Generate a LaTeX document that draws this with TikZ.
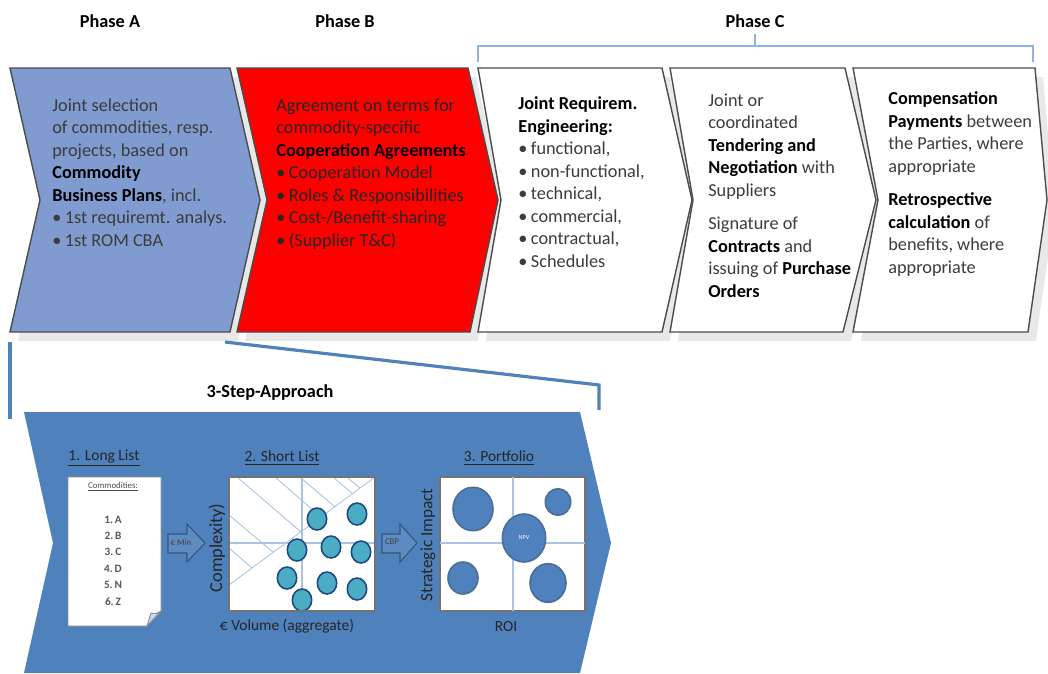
\documentclass[tikz,border=0pt]{standalone}
\usepackage{fontspec}
\setmainfont{Carlito}
\usetikzlibrary{shadows}

\definecolor{phaseblue}{RGB}{127,155,208}
\definecolor{phasered}{RGB}{255,0,0}
\definecolor{stepblue}{RGB}{79,129,189}
\definecolor{bracketblue}{RGB}{141,179,226}
\definecolor{gridblue}{RGB}{170,195,228}
\definecolor{listteal}{RGB}{75,172,198}
\definecolor{dotline}{RGB}{31,73,125}
\definecolor{bodygray}{RGB}{60,60,60}

\newcommand{\kw}[1]{\textcolor{black}{\textbf{#1}}}

\tikzset{
  phase/.style={draw=black!70, line width=0.8pt,
    drop shadow={shadow xshift=4.5pt, shadow yshift=-5pt, fill=black!9, opacity=1}},
  body/.style={anchor=base west, inner sep=0pt, align=left, text=bodygray,
    font=\fontsize{10.4}{12.8}\selectfont},
  title/.style={font=\fontsize{10.4}{12.8}\selectfont\bfseries},
  bracket/.style={draw=bracketblue, line width=1.1pt},
  callout/.style={draw=stepblue, line width=1.8pt},
  steplabel/.style={font=\fontsize{8.8}{10}\selectfont, text=black!85},
  axis/.style={font=\fontsize{8.8}{10}\selectfont, text=black!85},
  chart/.style={fill=white, draw=black!55, line width=0.6pt},
  grid/.style={draw=gridblue, line width=1.3pt},
  hatch/.style={draw=gridblue, line width=0.5pt},
  blockarrow/.style={fill=stepblue!92!white, draw=stepblue!65!black, line width=0.6pt},
  tiny/.style={font=\fontsize{5}{6}\selectfont, text=black!75, inner sep=0pt},
  shortdot/.style={fill=listteal, draw=dotline, line width=0.9pt},
  portdot/.style={fill=stepblue, draw=dotline!80, line width=0.9pt},
  listitem/.style={font=\fontsize{6.4}{7}\selectfont\bfseries, text=black!65, inner sep=0pt}
}

\begin{document}
\begin{tikzpicture}[x=0.02cm, y=-0.02cm]
  \path[use as bounding box, fill=white] (0,0) rectangle (1048,673);

  % phase titles and bracket
  \node[title] (ta) at (110,21) {Phase A};
  \node[title] (tb) at (345,21) {Phase B};
  \node[title] (tc) at (755,21) {Phase C};
  \draw[bracket] (478,62) -- (478,46) -- (1033,46) -- (1033,62);
  \draw[bracket] (755,46) -- (755,34);

  % chevrons
  \draw[phase, fill=phaseblue] (10,68) -- (230,68) -- (260,200) -- (230,332) -- (10,332) -- (40,200) -- cycle;
  \draw[phase, fill=phasered] (237,68) -- (468,68) -- (498,200) -- (470,332) -- (237,332) -- (267,200) -- cycle;
  \draw[phase, fill=white] (478,68) -- (662,68) -- (692,200) -- (662,332) -- (478,332) -- (501,200) -- cycle;
  \draw[phase, fill=white] (670,68) -- (845,68) -- (876,200) -- (843,332) -- (670,332) -- (693,200) -- cycle;
  \draw[phase, fill=white] (853,68) -- (1035,68) -- (1047,200) -- (1028,332) -- (853,332) -- (878,200) -- cycle;

  % texts sit on the baseline of their last line
  \node[body] (na) at (52,246) {Joint selection\\
    of commodities, resp.\\
    projects, based on\\
    \kw{Commodity}\\
    \kw{Business Plans}, incl.\\
    \textbullet\hspace{2pt}1st requiremt. analys.\\
    \textbullet\hspace{2pt}1st ROM CBA};
  \node[body, text=black!85] (nb) at (276,246) {Agreement on terms for\\
    commodity-specific\\
    \kw{Cooperation Agreements}\\
    \textbullet\hspace{2pt}Cooperation Model\\
    \textbullet\hspace{2pt}Roles \& Responsibilities\\
    \textbullet\hspace{2pt}Cost-/Benefit-sharing\\
    \textbullet\hspace{2pt}(Supplier T\&C)};
  \node[body] (nc) at (518,267) {\kw{Joint Requirem.}\\
    \kw{Engineering:}\\
    \textbullet\hspace{2pt}functional,\\
    \textbullet\hspace{2pt}non-functional,\\
    \textbullet\hspace{2pt}technical,\\
    \textbullet\hspace{2pt}commercial,\\
    \textbullet\hspace{2pt}contractual,\\
    \textbullet\hspace{2pt}Schedules};
  \node[body] (nd) at (708,297) {Joint or\\
    coordinated\\
    \kw{Tendering and}\\
    \kw{Negotiation} with\\
    Suppliers\\[6.2pt]
    Signature of\\
    \kw{Contracts} and\\
    issuing of \kw{Purchase}\\
    \kw{Orders}};
  \node[body] (ne) at (888,273) {\kw{Compensation}\\
    \kw{Payments} between\\
    the Parties, where\\
    appropriate\\[6.2pt]
    \kw{Retrospective}\\
    \kw{calculation} of\\
    benefits, where\\
    appropriate};

  % callout from phase A
  \coordinate (ca) at (10,342);
  \coordinate (cb) at (225,342);
  \coordinate (cc) at (599,385);
  \draw[callout] (ca) -- (10,419);
  \draw[callout] (cb) -- (cc) -- (599,410);
  \node[title] (steps) at (270,393) {3-Step-Approach};

  % three steps
  \fill[stepblue] (24,412) -- (580,412) -- (611,543) -- (580,673) -- (24,673) -- (53,543) -- cycle;
  \node[steplabel] (s1) at (104,458) {\underline{1. Long List}};
  \node[steplabel] (s2) at (282,458) {\underline{2. Short List}};
  \node[steplabel] (s3) at (499,458) {\underline{3. Portfolio}};

  % long list sheet
  \draw[fill=white, draw=black!45, line width=0.5pt] (68,477) -- (161,477) -- (161,611) -- (147,626) -- (68,626) -- cycle;
  \draw[fill=stepblue!30!white, draw=black!45, line width=0.5pt] (161,611) -- (147,626) .. controls (149,619) .. (151,613) .. controls (156,614) .. (161,611) -- cycle;
  \node[tiny, text=black!70] (com) at (113,487) {\underline{Commodities:}};
  \foreach \t [count=\i] in {A,B,C,D,N,Z}
    \node[listitem] (l\i) at (113,{503+16.4*\i}) {\i.\,\t};

  \draw[blockarrow] (168,534) -- (187,534) -- (187,524) -- (205,543) -- (187,562) -- (187,553) -- (168,553) -- cycle;
  \node[tiny] (emin) at (181,542) {€ Min};

  % short list chart
  \draw[chart] (229,477) rectangle (375,611);
  \draw[hatch] (229,585) -- (375,477);
  \draw[hatch] (237,477) -- (301,532);
  \draw[hatch] (275,477) -- (321,517);
  \draw[hatch] (300,477) -- (335,507);
  \draw[hatch] (333,477) -- (353,494);
  \draw[hatch] (347,477) -- (360,488);
  \draw[hatch] (229,515) -- (273,552);
  \draw[hatch] (229,548) -- (252,568);
  \draw[grid] (302,477) -- (302,611);
  \draw[grid] (229,543) -- (375,543);
  \foreach \x/\y in {317/519, 357/514, 297/550, 331/547, 361/552, 287/578, 327/583, 357/589, 302/600}
    \draw[shortdot] (\x,\y) ellipse [x radius=9.7, y radius=11];
  \draw[black!55, line width=0.6pt] (229,477) rectangle (375,611);
  \node[axis, rotate=90, font=\fontsize{10.4}{12}\selectfont] (cx) at (217,548) {Complexity)};
  \node[axis] (vol) at (287,626) {€ Volume (aggregate)};

  \draw[blockarrow] (382,534) -- (400,534) -- (400,524) -- (417,543) -- (400,562) -- (400,553) -- (382,553) -- cycle;
  \node[tiny] (cbp) at (392,542) {CBP};

  % portfolio chart
  \draw[chart] (440,477) rectangle (585,611);
  \draw[grid] (513,477) -- (513,611);
  \draw[grid] (440,543) -- (585,543);
  \draw[portdot] (473,509) ellipse [x radius=20, y radius=21.7];
  \draw[portdot] (558,502) ellipse [x radius=12.7, y radius=13.3];
  \draw[portdot] (524,538) ellipse [x radius=21.7, y radius=24];
  \draw[portdot] (463,578) ellipse [x radius=15, y radius=16];
  \draw[portdot] (548,583) ellipse [x radius=18, y radius=19.3];
  \node[tiny, text=white, font=\fontsize{3.5}{4}\selectfont] (npv) at (524,538) {NPV};
  \node[axis, rotate=90, font=\fontsize{9.8}{12}\selectfont] (si) at (428,545) {Strategic Impact};
  \node[axis] (roi) at (506,627) {ROI};
\end{tikzpicture}
\end{document}
